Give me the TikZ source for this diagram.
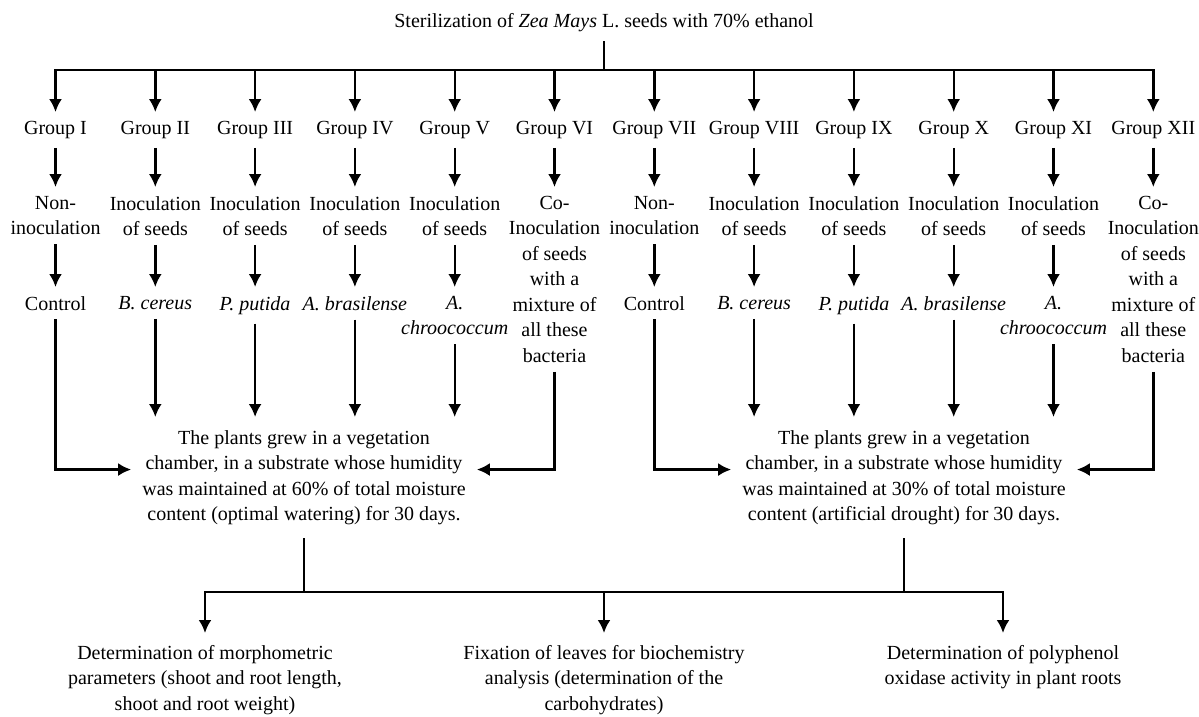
\documentclass[tikz,border=0pt]{standalone}
\usepackage{fontspec}
\setmainfont{Liberation Serif}
\usetikzlibrary{arrows.meta}

\begin{document}
\begin{tikzpicture}[x=1pt,y=-1pt,
	txt/.style={font=\fontsize{20}{25.5}\selectfont, align=center, inner xsep=3pt, inner ysep=9pt},
	midtxt/.style={txt, inner xsep=11pt, inner ysep=13pt},
	bottxt/.style={txt, inner ysep=12pt},
	flow/.style={line width=2.4pt},
	>={Latex[length=13pt,width=13pt]}]
	\useasboundingbox (0,0) rectangle (1199,717);

	\node[txt] (title) at (604,23) {Sterilization of \textit{Zea Mays} L. seeds with 70\% ethanol};
	\coordinate (hub) at (604,70);

	% groups
	\foreach \i/\g in {1/I,2/II,3/III,4/IV,5/V,6/VI,7/VII,8/VIII,9/IX,10/X,11/XI,12/XII}
		\node[txt] (g\i) at ({55.5+(\i-1)*99.8},130) {Group \g};

	% treatments
	\node[txt,anchor=north] (tr1) at (g1 |- 0,187) {Non-\\inoculation};
	\node[txt,anchor=north] (tr2) at (g2 |- 0,187) {Inoculation\\of seeds};
	\node[txt,anchor=north] (tr3) at (g3 |- 0,187) {Inoculation\\of seeds};
	\node[txt,anchor=north] (tr4) at (g4 |- 0,187) {Inoculation\\of seeds};
	\node[txt,anchor=north] (tr5) at (g5 |- 0,187) {Inoculation\\of seeds};
	\node[txt,anchor=north] (tr6) at (g6 |- 0,187) {Co-\\Inoculation\\of seeds\\with a\\mixture of\\all these\\bacteria};
	\node[txt,anchor=north] (tr7) at (g7 |- 0,187) {Non-\\inoculation};
	\node[txt,anchor=north] (tr8) at (g8 |- 0,187) {Inoculation\\of seeds};
	\node[txt,anchor=north] (tr9) at (g9 |- 0,187) {Inoculation\\of seeds};
	\node[txt,anchor=north] (tr10) at (g10 |- 0,187) {Inoculation\\of seeds};
	\node[txt,anchor=north] (tr11) at (g11 |- 0,187) {Inoculation\\of seeds};
	\node[txt,anchor=north] (tr12) at (g12 |- 0,187) {Co-\\Inoculation\\of seeds\\with a\\mixture of\\all these\\bacteria};

	% bacteria
	\node[txt,anchor=north] (r1) at (g1 |- 0,287) {Control};
	\node[txt,anchor=north] (r2) at (g2 |- 0,287) {\textit{B. cereus}};
	\node[txt,anchor=north] (r3) at (g3 |- 0,287) {\textit{P. putida}};
	\node[txt,anchor=north] (r4) at (g4 |- 0,287) {\textit{A. brasilense}};
	\node[txt,anchor=north] (r5) at (g5 |- 0,287) {\textit{A.}\\\textit{chroococcum}};
	\node[txt,anchor=north] (r7) at (g7 |- 0,287) {Control};
	\node[txt,anchor=north] (r8) at (g8 |- 0,287) {\textit{B. cereus}};
	\node[txt,anchor=north] (r9) at (g9 |- 0,287) {\textit{P. putida}};
	\node[txt,anchor=north] (r10) at (g10 |- 0,287) {\textit{A. brasilense}};
	\node[txt,anchor=north] (r11) at (g11 |- 0,287) {\textit{A.}\\\textit{chroococcum}};

	% growth conditions
	\node[midtxt,anchor=north] (mid1) at (304,417) {The plants grew in a vegetation\\chamber, in a substrate whose humidity\\was maintained at 60\% of total moisture\\content (optimal watering) for 30 days.};
	\node[midtxt,anchor=north] (mid2) at (904,417) {The plants grew in a vegetation\\chamber, in a substrate whose humidity\\was maintained at 30\% of total moisture\\content (artificial drought) for 30 days.};

	% analyses
	\coordinate (bar) at (604,592);
	\node[bottxt,anchor=north] (b1) at (205,633) {Determination of morphometric\\parameters (shoot and root length,\\shoot and root weight)};
	\node[bottxt,anchor=north] (b2) at (604,633) {Fixation of leaves for biochemistry\\analysis (determination of the\\carbohydrates)};
	\node[bottxt,anchor=north] (b3) at (1003,633) {Determination of polyphenol\\oxidase activity in plant roots};

	% connectors
	\draw[flow] (title) -- (hub);
	\draw[flow,->] (hub) -| (g1);
	\draw[flow,->] (hub) -| (g12);
	\foreach \i in {2,...,11}
		\draw[flow,->] (g\i |- hub) -- (g\i);
	\foreach \i in {1,...,12}
		\draw[flow,->] (g\i) -- (tr\i);
	\foreach \i in {1,2,3,4,5,7,8,9,10,11}
		\draw[flow,->] (tr\i) -- (r\i);

	\foreach \i in {2,3,4,5}
		\draw[flow,->] (r\i) -- (r\i |- mid1.north);
	\foreach \i in {8,9,10,11}
		\draw[flow,->] (r\i) -- (r\i |- mid2.north);
	\draw[flow,->] (r1) |- ([yshift=8pt]mid1.west);
	\draw[flow,->] (tr6) |- ([yshift=8pt]mid1.east);
	\draw[flow,->] (r7) |- ([yshift=8pt]mid2.west);
	\draw[flow,->] (tr12) |- ([yshift=8pt]mid2.east);

	\draw[flow] (mid1) -- (mid1 |- bar);
	\draw[flow] (mid2) -- (mid2 |- bar);
	\draw[flow,->] (bar) -| (b1);
	\draw[flow,->] (bar) -| (b3);
	\draw[flow,->] (bar) -- (b2);
\end{tikzpicture}
\end{document}
